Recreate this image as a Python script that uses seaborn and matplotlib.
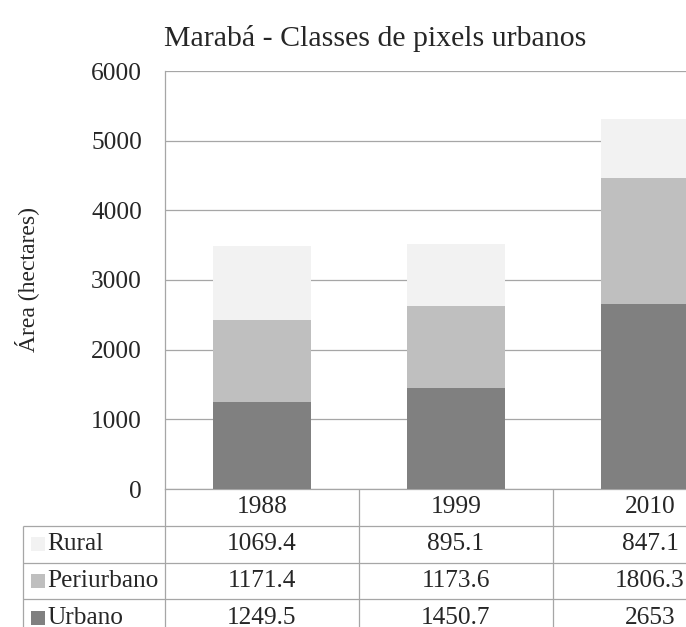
import numpy as np
import pandas as pd
import matplotlib.pyplot as plt
import seaborn as sns

YEARS = ["1988", "1999", "2010"]
CLASSES = ["Rural", "Periurbano", "Urbano"]
RURAL = [1069.4, 895.1, 847.1]
PERIURBANO = [1171.4, 1173.6, 1806.3]
URBANO = [1249.5, 1450.7, 2653]
YTICKS = [0, 1000, 2000, 3000, 4000, 5000, 6000]

COLORS = {"Rural": "#f2f2f2", "Periurbano": "#bfbfbf", "Urbano": "#808080"}
GRID = "#a6a6a6"
FS = 18.3

sns.set_style("white")
plt.rcParams["font.family"] = ["Liberation Serif", "DejaVu Serif"]

df = pd.DataFrame({"ano": YEARS, "Rural": RURAL, "Periurbano": PERIURBANO, "Urbano": URBANO})
df["top_peri"] = df["Urbano"] + df["Periurbano"]
df["top_rural"] = df["top_peri"] + df["Rural"]

W, H = 686, 627
fig = plt.figure(figsize=(W / 100, H / 100), dpi=100)

# plot area in pixels; the 2010 column runs past the right edge like the original
left, top, bottom = 165, 71, 489
col_px = 194.0
tab_left = 23
row_px = 36.75

ax = fig.add_axes([left / W, 1 - bottom / H, (W - left) / W, (bottom - top) / H])
ax.set_axisbelow(True)

# stacked bars: draw cumulative totals from the top down
for col, key in [("top_rural", "Rural"), ("top_peri", "Periurbano"), ("Urbano", "Urbano")]:
    sns.barplot(data=df, x="ano", y=col, color=COLORS[key], saturation=1,
                width=0.505, linewidth=0, ax=ax, zorder=3)

ax.set_xlim(-0.5, -0.5 + (W - left) / col_px)
ax.set_ylim(0, 6000)
ax.set_yticks(YTICKS)
ax.set_xticks([])
ax.set_xlabel("")
ax.yaxis.grid(True, color=GRID, lw=0.9)
for s in ["top", "right"]:
    ax.spines[s].set_visible(False)
for s in ["left", "bottom"]:
    ax.spines[s].set_color(GRID)
    ax.spines[s].set_linewidth(0.9)
ax.tick_params(axis="y", length=0, pad=16.5, labelsize=FS)
ax.set_ylabel("Área (hectares)", fontsize=17)
ax.yaxis.set_label_coords((39 - left) / (W - left), 0.5)

fig.text(375 / W, 1 - 38 / H, "Marabá - Classes de pixels urbanos",
         ha="center", va="center", fontsize=21.5)

# data table under the plot
tax = fig.add_axes([tab_left / W, 0, (W - tab_left) / W, (H - bottom) / H])
lab_w = (left - tab_left) / col_px
x0 = -0.5 - lab_w
n = len(YEARS)
tax.set_xlim(x0, -0.5 + (W - left) / col_px)
tax.set_ylim((H - bottom) / row_px, 0)
tax.axis("off")

nrows = len(CLASSES) + 1
tax.vlines([i - 0.5 for i in range(n + 1)], 0, nrows, color=GRID, lw=0.9, clip_on=False)
tax.vlines([x0], 1, nrows, color=GRID, lw=0.9, clip_on=False)
tax.hlines(list(range(1, nrows + 1)), x0, n - 0.5, color=GRID, lw=0.9, clip_on=False)

for i, yr in enumerate(YEARS):
    tax.text(i, 0.5, yr, ha="center", va="center", fontsize=FS)

values = {"Rural": RURAL, "Periurbano": PERIURBANO, "Urbano": URBANO}
for r, cls in enumerate(CLASSES, start=1):
    tax.scatter([x0 + 0.075], [r + 0.5], marker="s", s=90, color=COLORS[cls],
                linewidths=0, clip_on=False)
    tax.text(x0 + 0.125, r + 0.5, cls, ha="left", va="center", fontsize=FS)
    for i, v in enumerate(values[cls]):
        tax.text(i, r + 0.5, "{:g}".format(v), ha="center", va="center", fontsize=FS)

fig.savefig("out.png", dpi=100)
